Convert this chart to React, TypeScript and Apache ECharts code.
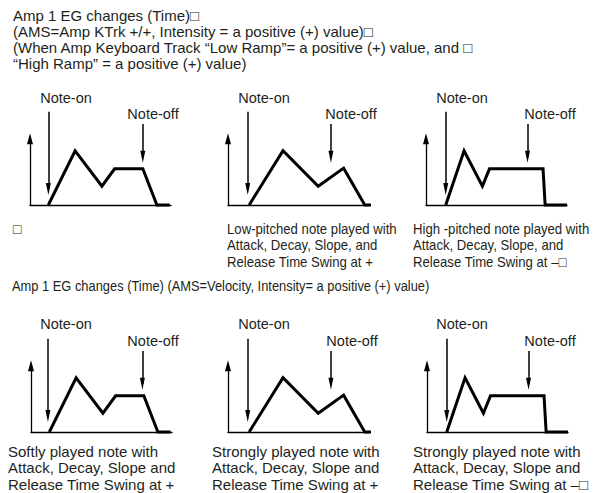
import React, { useEffect, useRef } from "react";
import * as echarts from "echarts";

// Envelope shapes: time 0..100 across a panel, level 0..150 (100 = top of level axis)
const envTimeA = [13, 32, 51, 60, 80, 90, 99];
const envLevelA = [0, 81, 28, 54, 54, 0, 0];
const envTimeB = [15, 39, 64, 82, 97, 102];
const envLevelB = [0, 81, 28, 55, 0, 0];
const envTimeC = [14, 27, 40, 45, 83, 84.5, 100];
const envLevelC = [0, 81, 28, 54, 54, 0, 0];

// which envelope each panel shows (row 1, then row 2)
const panelShapes = ["A", "B", "C", "A", "B", "C"];
const noteOnTime = [13, 14, 14, 12, 14, 14];
const noteOffTime = [80, 73, 72, 79, 73, 72];
const noteOnLevels = [139, 24];
const noteOffLevels = [121, 72];
const levelAxisTop = 99;

const noteOnLabel = "Note-on";
const noteOffLabel = "Note-off";

const titleLines = [
  "Amp 1 EG changes (Time)\u25A1",
  "(AMS=Amp KTrk +/+, Intensity = a positive (+) value)\u25A1",
  "(When Amp Keyboard Track \u201CLow Ramp\u201D= a positive (+) value, and \u25A1",
  "\u201CHigh Ramp\u201D = a positive (+) value)",
];
const midTitle =
  "Amp 1 EG changes (Time) (AMS=Velocity, Intensity= a positive (+) value)";
const captions = [
  ["\u25A1"],
  ["Low-pitched note played with", "Attack, Decay, Slope, and", "Release Time Swing at +"],
  ["High -pitched note played with", "Attack, Decay, Slope, and", "Release Time Swing at \u2013\u25A1"],
  ["Softly played note with", "Attack, Decay, Slope and", "Release Time Swing at +"],
  ["Strongly played note with", "Attack, Decay, Slope and", "Release Time Swing at +"],
  ["Strongly played note with", "Attack, Decay, Slope and", "Release Time Swing at \u2013\u25A1"],
];

const shapes: Record<string, { t: number[]; l: number[] }> = {
  A: { t: envTimeA, l: envLevelA },
  B: { t: envTimeB, l: envLevelB },
  C: { t: envTimeC, l: envLevelC },
};

// layout
const W = 605;
const H = 493;
const GRID_W = 141;
const GRID_H = 100.5; // 150 level units
const origins = [
  [30, 205],
  [228, 205],
  [426, 205],
  [31, 432],
  [228, 432],
  [427, 432],
];
const onLabelPos = [
  [66, 98],
  [264, 98],
  [462, 98],
  [66, 324],
  [264, 324],
  [462, 324],
];
const offLabelPos = [
  [153, 114],
  [351, 114],
  [550, 114],
  [153, 341],
  [352, 341],
  [550, 341],
];
const FONT = '"Liberation Sans", Arial, Helvetica, sans-serif';
const TEXT = "#231f20";
const INK = "#000";
const HEAD = "path://M2.5,0 L5,12 L0,12 Z";
const AXIS_HEAD = "path://M3,0 L6,11 L0,11 Z";

function textEl(
  x: number,
  y: number,
  text: string,
  size: number,
  opts: { align?: string; vAlign?: string; lineHeight?: number; scaleX?: number } = {}
) {
  const align = opts.align || "left";
  const vAlign = opts.vAlign || "middle";
  return {
    type: "text",
    x,
    y,
    scaleX: opts.scaleX || 1,
    silent: true,
    style: {
      text,
      x: 0,
      y: 0,
      fill: TEXT,
      font: `${size}px ${FONT}`,
      textAlign: align,
      align,
      textVerticalAlign: vAlign,
      verticalAlign: vAlign,
      lineHeight: opts.lineHeight,
    },
  };
}

export default function App() {
  const ref = useRef<HTMLDivElement>(null);
  useEffect(() => {
    if (!ref.current) return;
    const chart = echarts.init(ref.current, null, { renderer: "svg", width: W, height: H });

    const grids: any[] = [];
    const xAxes: any[] = [];
    const yAxes: any[] = [];
    const series: any[] = [];
    const graphics: any[] = [];

    panelShapes.forEach((key, i) => {
      const [ox, oy] = origins[i];
      grids.push({ left: ox, top: oy - GRID_H, width: GRID_W, height: GRID_H });
      xAxes.push({
        gridIndex: i,
        type: "value",
        min: 0,
        max: 100,
        axisLine: { show: true, lineStyle: { color: INK, width: 1.3 } },
        axisTick: { show: false },
        axisLabel: { show: false },
        splitLine: { show: false },
      });
      yAxes.push({
        gridIndex: i,
        type: "value",
        min: 0,
        max: 150,
        axisLine: { show: false },
        axisTick: { show: false },
        axisLabel: { show: false },
        splitLine: { show: false },
      });
      const s = shapes[key];
      series.push({
        type: "line",
        xAxisIndex: i,
        yAxisIndex: i,
        data: s.t.map((t, k) => [t, s.l[k]]),
        symbol: "none",
        clip: false,
        silent: true,
        color: INK,
        lineStyle: { color: INK, width: 3, join: "miter", cap: "butt" },
        z: 3,
        markLine: {
          silent: true,
          symbol: ["none", HEAD],
          symbolSize: 12,
          symbolKeepAspect: true,
          itemStyle: { color: INK },
          label: { show: false },
          emphasis: { disabled: true },
          lineStyle: { color: INK, width: 1.5, type: "solid" },
          data: [
            [
              { coord: [0, 0] },
              { coord: [0, levelAxisTop], symbol: AXIS_HEAD, symbolSize: 11, lineStyle: { width: 1.3 } },
            ],
            [{ coord: [noteOnTime[i], noteOnLevels[0]] }, { coord: [noteOnTime[i], noteOnLevels[1]] }],
            [{ coord: [noteOffTime[i], noteOffLevels[0]] }, { coord: [noteOffTime[i], noteOffLevels[1]] }],
          ],
        },
      });
      graphics.push(textEl(onLabelPos[i][0], onLabelPos[i][1], noteOnLabel, 14.5, { align: "center" }));
      graphics.push(textEl(offLabelPos[i][0], offLabelPos[i][1], noteOffLabel, 14.5, { align: "center" }));
    });

    // titles
    graphics.push(
      textEl(13, 15.5 - 8, titleLines.join("\n"), 15, { vAlign: "top", lineHeight: 16 })
    );
    graphics.push(textEl(12, 286, midTitle, 14, { scaleX: 0.92 }));

    // captions
    graphics.push(textEl(13, 229, captions[0][0], 14));
    graphics.push(
      textEl(227, 229 - 8.35, captions[1].join("\n"), 14, { vAlign: "top", lineHeight: 16.7, scaleX: 0.94 })
    );
    graphics.push(
      textEl(413, 229 - 8.35, captions[2].join("\n"), 14, { vAlign: "top", lineHeight: 16.7, scaleX: 0.94 })
    );
    const bx = [8, 212, 413];
    for (let k = 0; k < 3; k++) {
      graphics.push(
        textEl(bx[k], 451 - 8.25, captions[3 + k].join("\n"), 15, { vAlign: "top", lineHeight: 16.5 })
      );
    }

    chart.setOption({
      animation: false,
      backgroundColor: "#fff",
      grid: grids,
      xAxis: xAxes,
      yAxis: yAxes,
      series,
      graphic: { elements: graphics },
    });
    return () => chart.dispose();
  }, []);

  return (
    <div
      ref={ref}
      style={{ position: "absolute", left: 0, top: 0, width: W, height: H, background: "#fff" }}
    />
  );
}
